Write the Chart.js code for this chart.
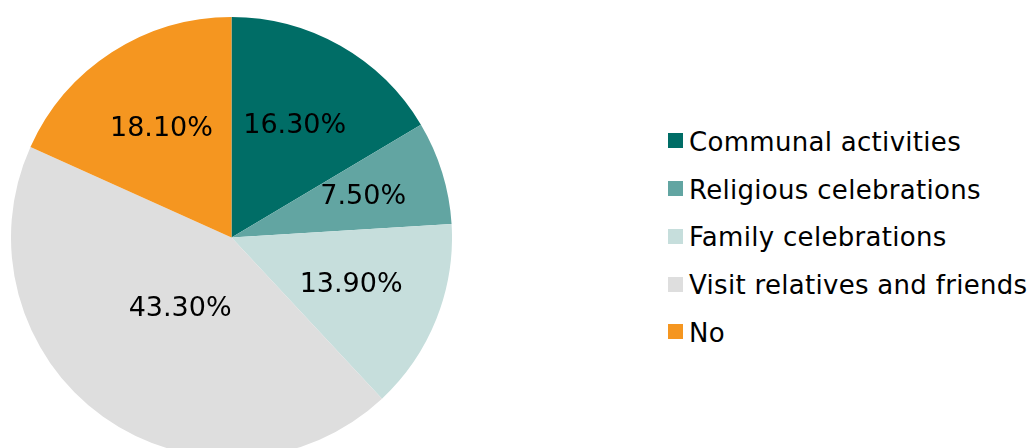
<!DOCTYPE html>
<html>
<head>
<meta charset="utf-8">
<script src="https://cdn.jsdelivr.net/npm/chart.js@4/dist/chart.umd.min.js"></script>
<style>
  html, body { margin: 0; padding: 0; background: #fff; }
  body { width: 1031px; height: 448px; overflow: hidden; position: relative; font-family: "DejaVu Sans", Verdana, sans-serif; }
  #pie-wrap { position: absolute; left: 11px; top: 17px; width: 441px; height: 441px; }
  #legend { position: absolute; left: 668px; top: 118px; margin: 0; padding: 0; list-style: none; }
  #legend li { height: 47.75px; display: flex; align-items: center; font-size: 26px; letter-spacing: 0.3px; color: #000; white-space: nowrap; }
  #legend .box { width: 15px; height: 15px; margin-right: 6px; flex: none; position: relative; top: -1px; }
</style>
</head>
<body>
<div id="pie-wrap"><canvas id="pie"></canvas></div>
<ul id="legend"></ul>
<script>
const categories = ['Communal activities', 'Religious celebrations', 'Family celebrations', 'Visit relatives and friends', 'No'];
const shares = [16.3, 7.5, 13.9, 43.3, 18.1];
const valueLabels = ['16.30%', '7.50%', '13.90%', '43.30%', '18.10%'];
const colors = ['#006d66', '#62a5a2', '#c6dedc', '#dedede', '#f59620'];

// how far out (fraction of radius) each percentage sits, like Excel's best fit
const labelRadius = [0.58, 0.625, 0.584, 0.40, 0.585];

const sliceLabels = {
  id: 'sliceLabels',
  afterDatasetsDraw(chart) {
    const ctx = chart.ctx;
    const meta = chart.getDatasetMeta(0);
    ctx.save();
    ctx.font = '27px "DejaVu Sans", Verdana, sans-serif';
    ctx.fillStyle = '#000';
    ctx.textAlign = 'center';
    ctx.textBaseline = 'middle';
    meta.data.forEach((arc, i) => {
      const p = arc.getProps(['x', 'y', 'startAngle', 'endAngle', 'outerRadius'], true);
      const mid = (p.startAngle + p.endAngle) / 2;
      const r = p.outerRadius * labelRadius[i];
      ctx.fillText(valueLabels[i], p.x + Math.cos(mid) * r, p.y + Math.sin(mid) * r);
    });
    ctx.restore();
  }
};

const chart = new Chart(document.getElementById('pie'), {
  type: 'pie',
  data: {
    labels: categories,
    datasets: [{
      data: shares,
      backgroundColor: colors,
      borderWidth: 0,
    }],
  },
  options: {
    responsive: true,
    maintainAspectRatio: false,
    animation: false,
    layout: { padding: 0 },
    plugins: {
      legend: { display: false },
      tooltip: { enabled: false },
    },
  },
  plugins: [sliceLabels],
});

function renderLegend() {
  const legendEl = document.getElementById('legend');
  const items = chart.options.plugins.legend.labels.generateLabels(chart);
  legendEl.innerHTML = items.map(it =>
    `<li><span class="box" style="background:${it.fillStyle}"></span>${it.text}</li>`
  ).join('');
}

renderLegend();
</script>
</body>
</html>
